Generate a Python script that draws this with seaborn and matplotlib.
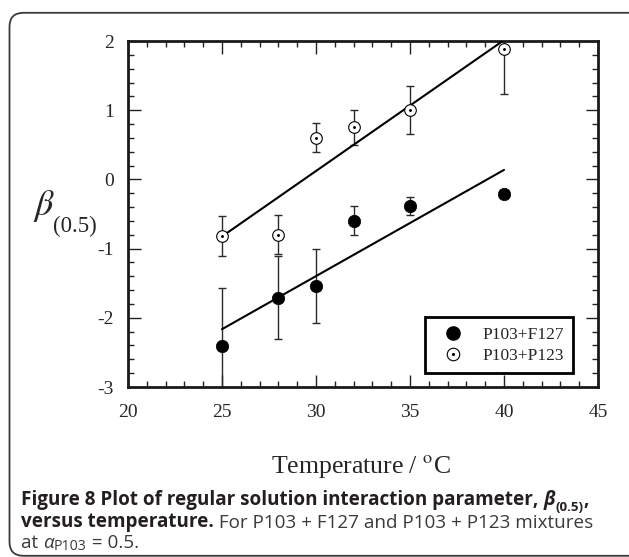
import numpy as np
import pandas as pd
import seaborn as sns
import matplotlib.pyplot as plt
from matplotlib.lines import Line2D
from matplotlib.patches import FancyBboxPatch
from matplotlib.ticker import MultipleLocator

# data
temps = [25, 28, 30, 32, 35, 40]
beta_f127 = [-2.41, -1.71, -1.54, -0.60, -0.38, -0.21]
err_f127 = [0.84, 0.60, 0.53, 0.21, 0.13, 0.0]
beta_p123 = [-0.82, -0.80, 0.60, 0.75, 1.00, 1.89]
err_p123 = [0.29, 0.28, 0.21, 0.26, 0.35, 0.66]
series = ['P103+F127', 'P103+P123']

df = pd.DataFrame({
    'T': temps * 2,
    'beta': beta_f127 + beta_p123,
    'err': err_f127 + err_p123,
    'mix': [series[0]] * len(temps) + [series[1]] * len(temps),
})

sns.set_style('ticks')
plt.rcParams['font.family'] = ['Liberation Serif', 'DejaVu Serif']
plt.rcParams['mathtext.fontset'] = 'stix'
plt.rcParams['axes.unicode_minus'] = False

W, H = 629, 557
fig = plt.figure(figsize=(W / 100, H / 100), dpi=100)
ax = fig.add_axes([128 / W, 1 - 387 / H, 470 / W, 346 / H])

# outer rounded frame
frame = FancyBboxPatch((0.095, 0.012), 6.35, 5.43,
                       boxstyle='round,pad=0,rounding_size=0.14',
                       transform=fig.dpi_scale_trans, fill=False,
                       edgecolor='#3a3a3a', lw=1.3, zorder=0)
fig.patches.append(frame)

for name in series:
    d = df[df['mix'] == name]
    ax.errorbar(d['T'], d['beta'], yerr=d['err'], fmt='none', ecolor='#2a2a2a',
                elinewidth=1.0, capsize=3.2, capthick=1.0, zorder=2)
    sns.regplot(data=d, x='T', y='beta', scatter=False, ci=None, ax=ax,
                color='black', line_kws={'lw': 1.5, 'zorder': 3})

d1 = df[df['mix'] == series[0]]
d2 = df[df['mix'] == series[1]]
sns.scatterplot(data=d1, x='T', y='beta', ax=ax, s=80, color='black',
                edgecolor='black', linewidth=0.5, zorder=4, legend=False)
sns.scatterplot(data=d2, x='T', y='beta', ax=ax, s=70, facecolor='white',
                edgecolor='black', linewidth=0.8, zorder=4, legend=False)
ax.scatter(d2['T'], d2['beta'], s=1.2, color='black', zorder=5)

ax.set_xlim(20, 45)
ax.set_ylim(-3, 2)
ax.xaxis.set_major_locator(MultipleLocator(5))
ax.xaxis.set_minor_locator(MultipleLocator(1))
ax.yaxis.set_major_locator(MultipleLocator(1))
ax.yaxis.set_minor_locator(MultipleLocator(0.2))
ax.tick_params(which='both', direction='in', top=True, right=True, width=1.0,
               color='#222222')
ax.tick_params(which='major', length=9, labelsize=14, pad=10)
ax.tick_params(axis='x', which='major', pad=12)
ax.tick_params(which='minor', length=4.5)
ax.set_xlabel('')
ax.set_ylabel('')
for sp in ax.spines.values():
    sp.set_linewidth(2)
    sp.set_color('#1a1a1a')

# legend
h1 = Line2D([], [], marker='o', ls='none', ms=9.5, mfc='black', mec='black')
h2 = Line2D([], [], marker='o', ls='none', ms=9, mfc='white', mec='black', mew=0.8)
h2dot = Line2D([], [], marker='o', ls='none', ms=1.2, mfc='black', mec='black')
leg = ax.legend([h1, (h2, h2dot)], series, loc='lower right',
                bbox_to_anchor=(0.947, 0.04), fancybox=False, framealpha=1,
                edgecolor='black', fontsize=12.5, handletextpad=0.55,
                borderpad=0.55, labelspacing=0.25, handlelength=2.2,
                borderaxespad=0)
leg.get_frame().set_linewidth(2)

# axis titles
fig.text(33 / W, 1 - 215 / H, r'$\beta$', fontsize=26, va='baseline', ha='left')
fig.text(53 / W, 1 - 232 / H, '(0.5)', fontsize=16.5, va='baseline', ha='left')
fig.text(361 / W, 1 - 473 / H, r'Temperature / $^{\mathrm{o}}$C', fontsize=18.5,
         ha='center', va='baseline')

# caption
cap_col = '#231f20'
reg_col = '#3a3a3a'
cf = ['Open Sans', 'DejaVu Sans']


def after(prev, s, dy=0, color=cap_col, **kw):
    return ax.annotate(s, xy=(1, 0), xycoords=prev, xytext=(0, dy),
                       textcoords='offset points', va='bottom', ha='left',
                       color=color, family=cf, annotation_clip=False, **kw)


fs = 13.6
t = fig.text(21 / W, 1 - 510 / H,
             'Figure 8 Plot of regular solution interaction parameter, ',
             fontsize=fs, weight='bold', color=cap_col, family=cf, va='bottom')
t = after(t, 'β', fontsize=fs, weight='bold', style='italic')
t = after(t, '(0.5)', dy=-3, fontsize=fs * 0.7, weight='bold')
t = after(t, ',', dy=3, fontsize=fs, weight='bold')

t = fig.text(21 / W, 1 - 532 / H, 'versus temperature.', fontsize=fs,
             weight='bold', color=cap_col, family=cf, va='bottom')
t = after(t, ' For P103 + F127 and P103 + P123 mixtures', fontsize=fs,
          color=reg_col)

t = fig.text(21 / W, 1 - 552 / H, 'at ', fontsize=fs, color=reg_col,
             family=cf, va='bottom')
t = after(t, 'α', fontsize=fs, style='italic', color=reg_col)
t = after(t, 'P103', dy=-1.5, fontsize=fs * 0.75, color=reg_col)
t = after(t, ' = 0.5.', dy=1.5, fontsize=fs, color=reg_col)

fig.savefig('out.png', dpi=100)
